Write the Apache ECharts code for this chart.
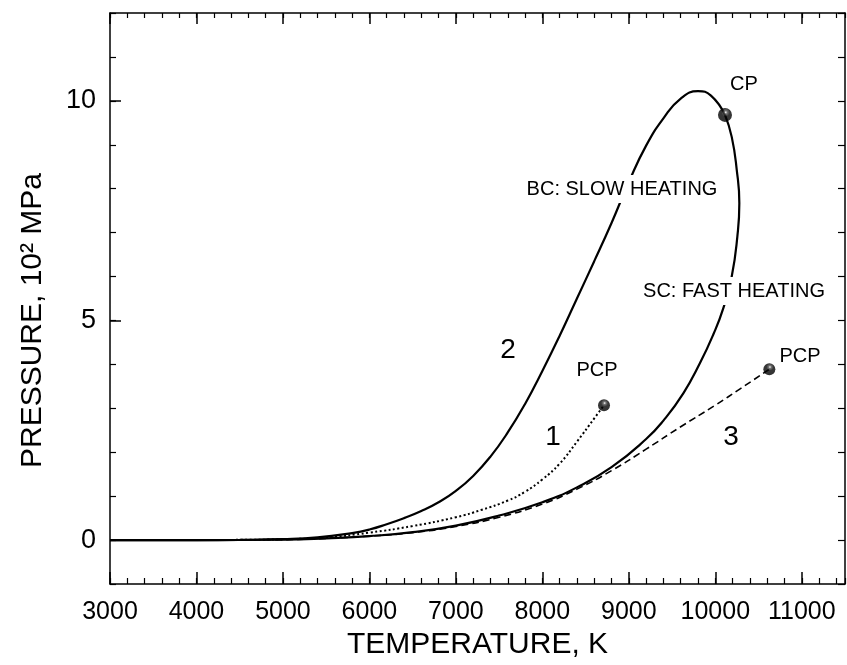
<!DOCTYPE html>
<html>
<head>
    <meta charset="utf-8" />
    <script src="https://cdn.jsdelivr.net/npm/echarts@6/dist/echarts.min.js"></script>
</head>
<body style="margin:0;background:#fff;">
    <div id="main" style="width:847px;height:665px;"></div>
    <script type="text/javascript">
        // curve 2 - BC: slow heating, from the base line up to CP  [T (K), P (10^2 MPa)]
        var slowHeating = [
            [3000, 0], [4000, 0], [4500, 0.005], [5000, 0.02], [5400, 0.06], [5800, 0.16],
            [6000, 0.24], [6200, 0.36], [6400, 0.50], [6600, 0.66], [6800, 0.86], [7000, 1.12],
            [7200, 1.46], [7400, 1.90], [7600, 2.45], [7800, 3.1], [8000, 3.85], [8200, 4.65],
            [8400, 5.5], [8600, 6.35], [8800, 7.22], [9000, 8.15], [9200, 8.98], [9400, 9.6],
            [9600, 10.05], [9800, 10.22], [9950, 10.12], [10112, 9.68]
        ];
        // SC: fast heating, from the base line up to CP
        var fastHeating = [
            [3000, 0], [4000, 0], [5000, 0.01], [5500, 0.04], [6000, 0.09], [6500, 0.18],
            [7000, 0.33], [7500, 0.56], [8000, 0.86], [8400, 1.2], [8800, 1.66], [9200, 2.3],
            [9400, 2.72], [9630, 3.34], [9823, 4.03], [9977, 4.68], [10093, 5.28], [10190, 6.0],
            [10255, 6.91], [10278, 7.67], [10248, 8.43], [10190, 9.18], [10112, 9.68]
        ];
        // curve 1 (dotted) up to its PCP
        var curve1 = [
            [3000, 0], [4500, 0.005], [5000, 0.02], [5500, 0.06], [6000, 0.17], [6500, 0.32],
            [7000, 0.52], [7300, 0.69], [7600, 0.9], [7800, 1.1], [8000, 1.38], [8200, 1.74],
            [8400, 2.24], [8600, 2.77], [8713, 3.07]
        ];
        // curve 3 (dashed) up to its PCP
        var curve3 = [
            [3000, 0], [5000, 0.01], [5500, 0.04], [6000, 0.09], [6500, 0.17], [7000, 0.31],
            [7500, 0.52], [8000, 0.82], [8400, 1.16], [8800, 1.58], [9200, 2.07], [9600, 2.58],
            [10000, 3.07], [10300, 3.46], [10625, 3.89]
        ];
        var cpPoint = [[10112, 9.68]];
        var pcpPoints = [[8713, 3.07], [10625, 3.89]];

        var xTicks = [3000, 4000, 5000, 6000, 7000, 8000, 9000, 10000, 11000];
        var yTicks = [0, 5, 10];

        var FONT = '"Liberation Sans", Arial, Helvetica, sans-serif';

        var ball = {
            type: 'radial', x: 0.55, y: 0.32, r: 0.7,
            colorStops: [
                { offset: 0, color: '#ffffff' },
                { offset: 0.16, color: '#555555' },
                { offset: 0.42, color: '#050505' },
                { offset: 1, color: '#000000' }
            ]
        };

        function plain(v) { return String(v); }

        function axisBase(pos, extra) {
            var a = {
                type: 'value',
                position: pos,
                axisLine: { show: true, onZero: false, lineStyle: { color: '#000', width: 1.5 } },
                axisTick: { show: true, inside: true, lineStyle: { color: '#000', width: 1.5 } },
                axisLabel: { show: false },
                splitLine: { show: false }
            };
            for (var k in extra) a[k] = extra[k];
            return a;
        }

        var xr = { min: 3000, max: 11500 };
        var yr = { min: -1, max: 12 };
        var noLine = { show: false, onZero: false };

        var myChart = echarts.init(document.getElementById('main'));
        var option = {
            backgroundColor: '#fff',
            animation: false,
            grid: { left: 110, right: 2, top: 13, bottom: 81, containLabel: false },
            xAxis: [
                axisBase('bottom', {
                    min: xr.min, max: xr.max, interval: 1000,
                    name: 'TEMPERATURE, K', nameLocation: 'middle', nameGap: 46,
                    nameTextStyle: { fontFamily: FONT, fontSize: 30, color: '#000' },
                    axisTick: { show: true, inside: true, length: 12, customValues: xTicks, lineStyle: { color: '#000', width: 1.5 } },
                    axisLabel: { show: true, customValues: xTicks, formatter: plain, margin: 16, fontFamily: FONT, fontSize: 25, color: '#000' }
                }),
                axisBase('bottom', {
                    min: xr.min, max: xr.max, interval: 200,
                    axisLine: noLine,
                    axisTick: { show: true, inside: true, length: 6, lineStyle: { color: '#000', width: 1.2 } }
                }),
                axisBase('top', {
                    min: xr.min, max: xr.max, interval: 1000,
                    axisTick: { show: true, inside: true, length: 11, customValues: xTicks, lineStyle: { color: '#000', width: 1.5 } }
                }),
                axisBase('top', {
                    min: xr.min, max: xr.max, interval: 200,
                    axisLine: noLine,
                    axisTick: { show: true, inside: true, length: 5, lineStyle: { color: '#000', width: 1.2 } }
                })
            ],
            yAxis: [
                axisBase('left', {
                    min: yr.min, max: yr.max, interval: 1,
                    name: 'PRESSURE, 10\u00B2 MPa', nameLocation: 'middle', nameGap: 62,
                    nameTextStyle: { fontFamily: FONT, fontSize: 30, color: '#000', padding: [0, 44, 0, 0] },
                    axisTick: { show: true, inside: true, length: 11, customValues: yTicks, lineStyle: { color: '#000', width: 1.5 } },
                    axisLabel: { show: true, customValues: yTicks, formatter: plain, margin: 14, fontFamily: FONT, fontSize: 27, color: '#000' }
                }),
                axisBase('left', {
                    min: yr.min, max: yr.max, interval: 1,
                    axisLine: noLine,
                    axisTick: { show: true, inside: true, length: 6, lineStyle: { color: '#000', width: 1.2 } }
                }),
                axisBase('right', {
                    min: yr.min, max: yr.max, interval: 1,
                    axisTick: { show: true, inside: true, length: 7, lineStyle: { color: '#000', width: 1.2 } }
                })
            ],
            series: [
                {
                    name: 'BC: SLOW HEATING', type: 'line', data: slowHeating, smooth: 0.5,
                    showSymbol: false, lineStyle: { color: '#000', width: 2.2 }, z: 3
                },
                {
                    name: 'SC: FAST HEATING', type: 'line', data: fastHeating, smooth: 0.5,
                    showSymbol: false, lineStyle: { color: '#000', width: 2.2 }, z: 3
                },
                {
                    name: '1', type: 'line', data: curve1, smooth: 0.5,
                    showSymbol: false, lineStyle: { color: '#000', width: 2, type: [2, 2.5] }, z: 3
                },
                {
                    name: '3', type: 'line', data: curve3, smooth: 0.5,
                    showSymbol: false, lineStyle: { color: '#000', width: 1.6, type: [7, 4] }, z: 3
                },
                {
                    name: 'CP', type: 'scatter', data: cpPoint, symbolSize: 14,
                    itemStyle: { color: ball }, z: 5
                },
                {
                    name: 'PCP', type: 'scatter', data: pcpPoints, symbolSize: 12,
                    itemStyle: { color: ball }, z: 5
                }
            ],
            graphic: [
                { type: 'text', z: 100, style: { text: 'CP', x: 744, y: 84, align: 'center', verticalAlign: 'middle', font: '20px ' + FONT, fill: '#000' } },
                { type: 'text', z: 100, style: { text: 'BC: SLOW HEATING', x: 622, y: 189, align: 'center', verticalAlign: 'middle', font: '20px ' + FONT, fill: '#000', backgroundColor: '#fff', padding: [4, 0] } },
                { type: 'text', z: 100, style: { text: 'SC: FAST HEATING', x: 734, y: 291, align: 'center', verticalAlign: 'middle', font: '20px ' + FONT, fill: '#000', backgroundColor: '#fff', padding: [4, 0] } },
                { type: 'text', z: 100, style: { text: '2', x: 508, y: 350, align: 'center', verticalAlign: 'middle', font: '28px ' + FONT, fill: '#000' } },
                { type: 'text', z: 100, style: { text: 'PCP', x: 597, y: 370, align: 'center', verticalAlign: 'middle', font: '20px ' + FONT, fill: '#000' } },
                { type: 'text', z: 100, style: { text: '1', x: 553, y: 437, align: 'center', verticalAlign: 'middle', font: '28px ' + FONT, fill: '#000' } },
                { type: 'text', z: 100, style: { text: '3', x: 731, y: 437, align: 'center', verticalAlign: 'middle', font: '28px ' + FONT, fill: '#000' } },
                { type: 'text', z: 100, style: { text: 'PCP', x: 800, y: 356, align: 'center', verticalAlign: 'middle', font: '20px ' + FONT, fill: '#000' } }
            ]
        };
        myChart.setOption(option);
    </script>
</body>
</html>
